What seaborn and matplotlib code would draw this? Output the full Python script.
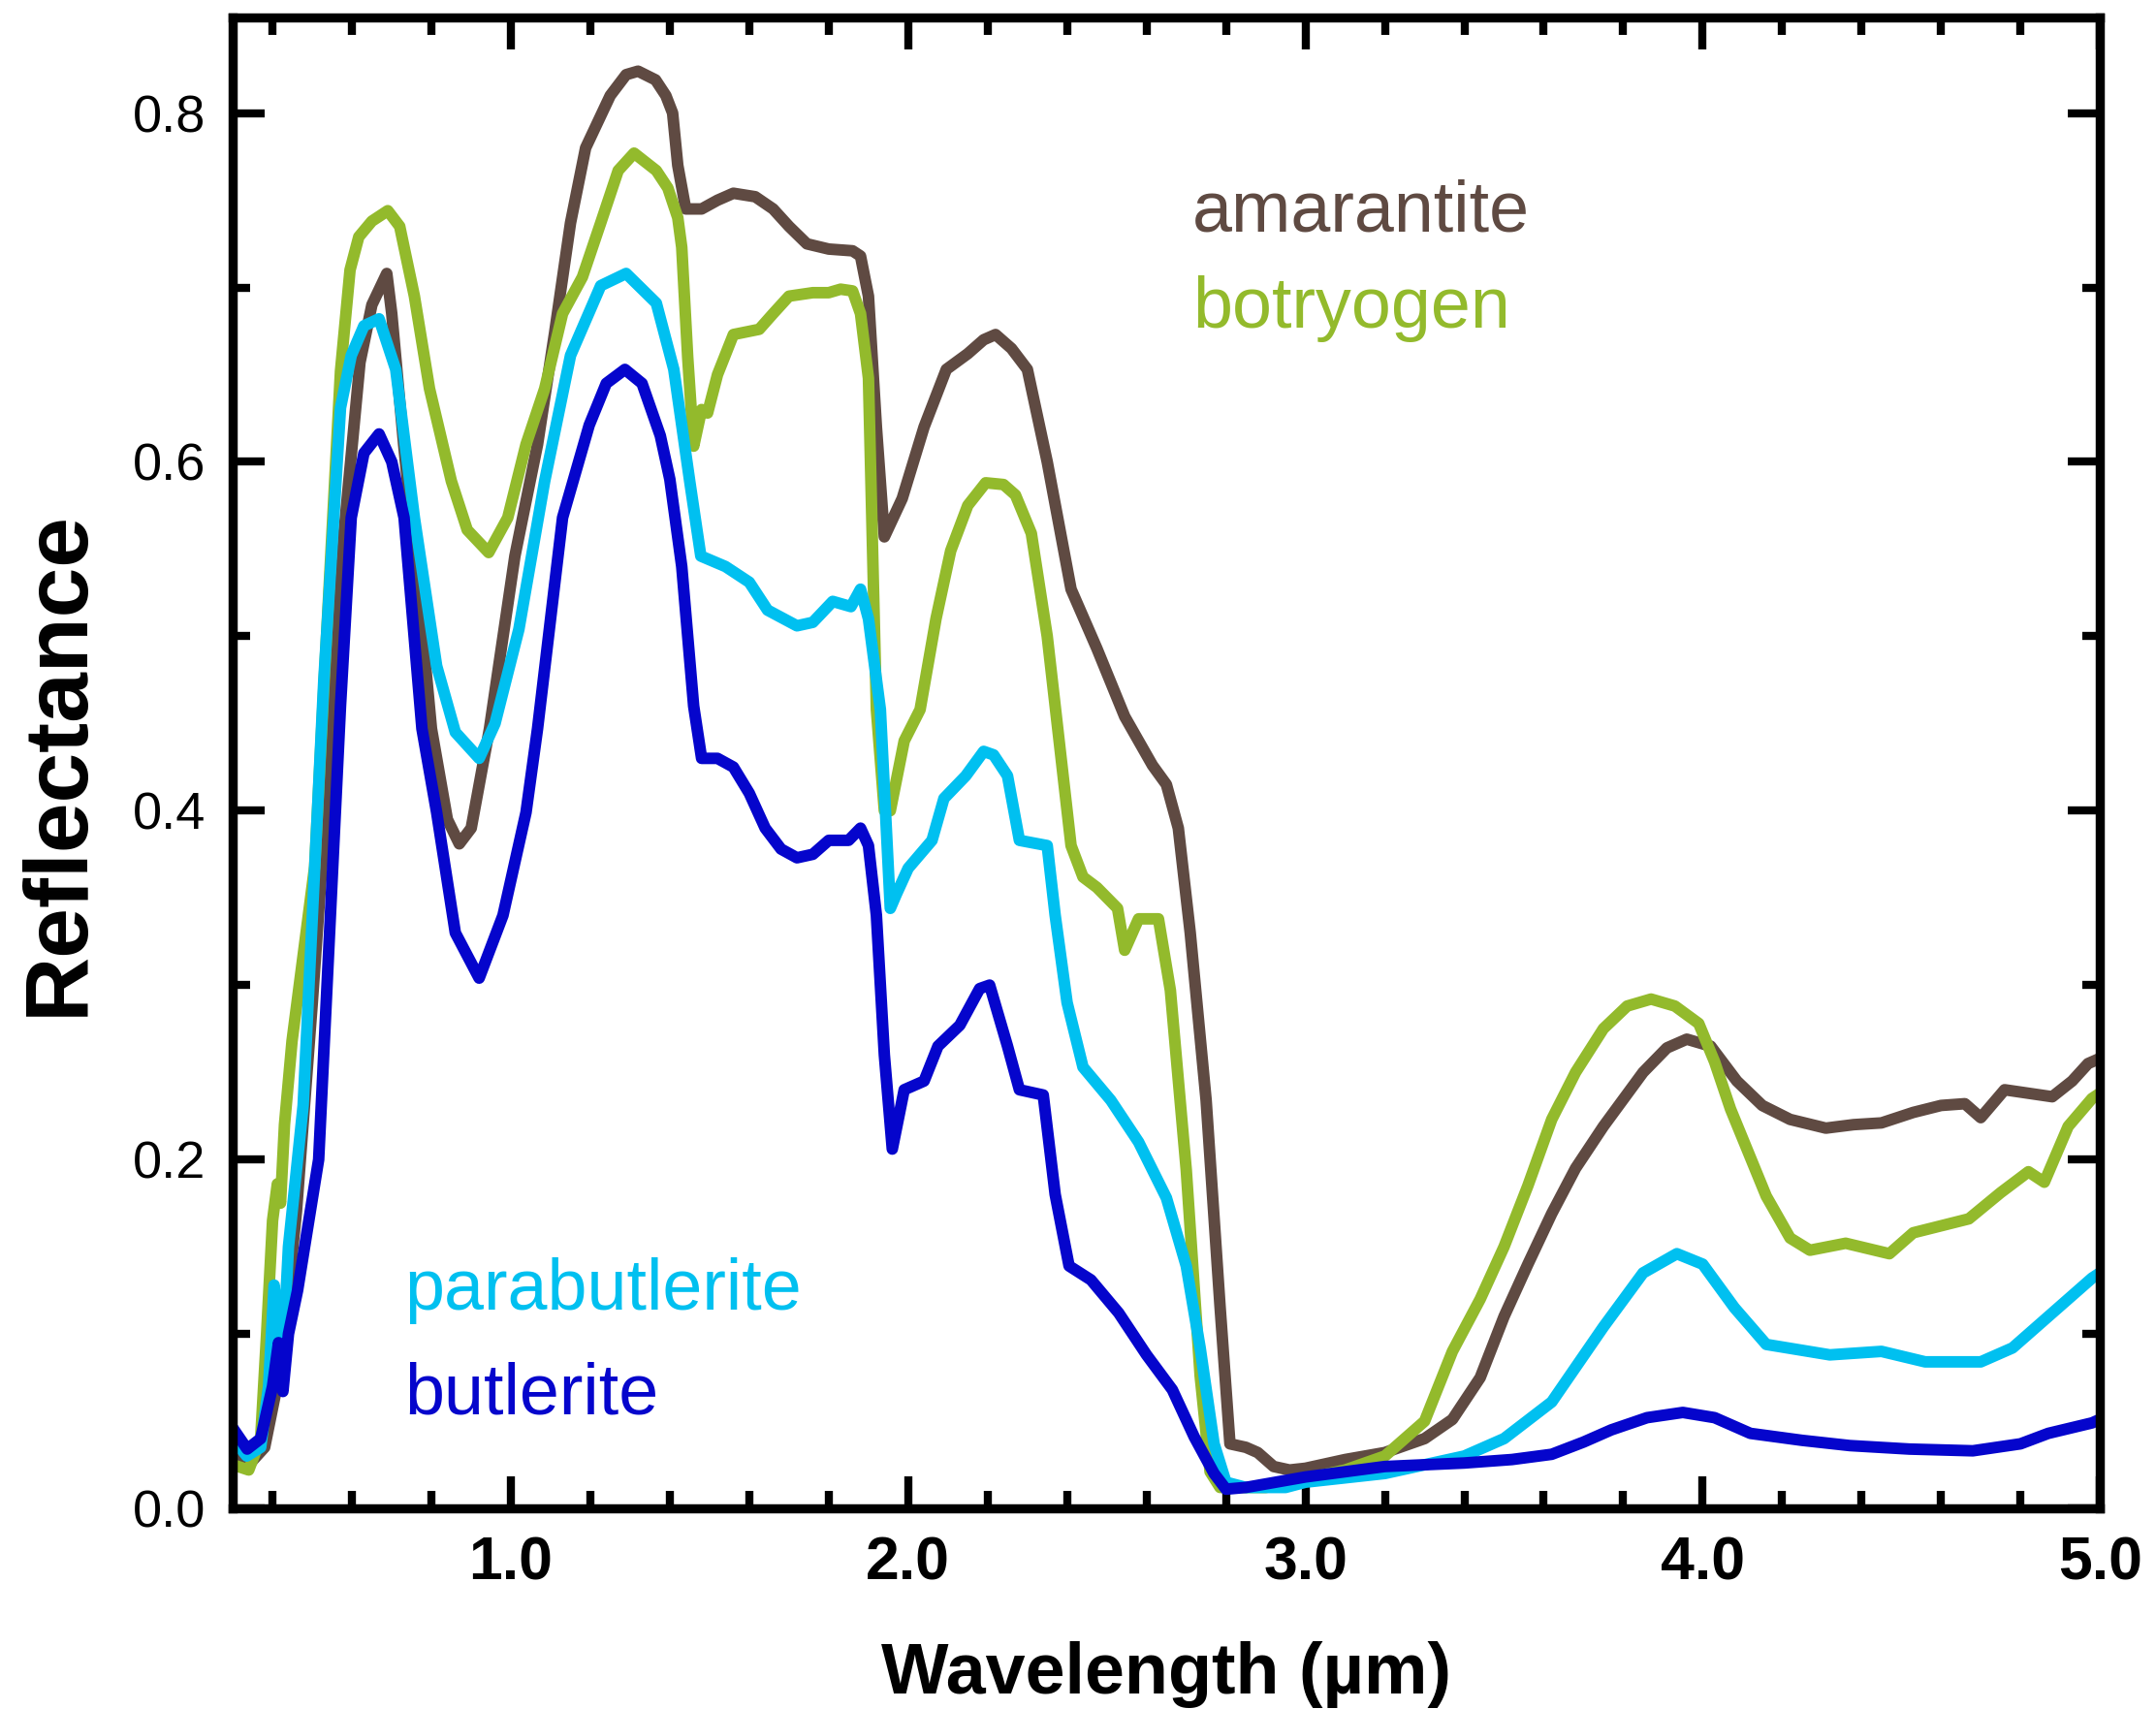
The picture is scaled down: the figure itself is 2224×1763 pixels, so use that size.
import matplotlib
matplotlib.use('Agg')
import matplotlib.pyplot as plt
from matplotlib.ticker import MultipleLocator, FormatStrFormatter
import pandas as pd
import seaborn as sns

# Spectra (wavelength in um, reflectance)
amar_wl = [0.30, 0.34, 0.38, 0.42, 0.46, 0.50, 0.54, 0.58, 0.62, 0.65, 0.6875, 0.70, 0.73, 0.768,
           0.80, 0.84, 0.87, 0.90, 0.946, 1.01, 1.067, 1.11, 1.15, 1.188, 1.25, 1.29, 1.32, 1.364,
           1.39, 1.407, 1.42, 1.44, 1.48, 1.52, 1.56, 1.615, 1.66, 1.70, 1.745, 1.80, 1.86, 1.88,
           1.90, 1.92, 1.94, 1.985, 2.04, 2.096, 2.15, 2.19, 2.22, 2.26, 2.30, 2.35, 2.41, 2.475,
           2.545, 2.615, 2.65, 2.68, 2.71, 2.75, 2.785, 2.81, 2.85, 2.88, 2.92, 2.96, 3.00, 3.10,
           3.20, 3.30, 3.37, 3.44, 3.50, 3.56, 3.62, 3.68, 3.75, 3.85, 3.91, 3.96, 4.02, 4.086,
           4.15, 4.22, 4.31, 4.38, 4.45, 4.53, 4.60, 4.66, 4.70, 4.76, 4.82, 4.88, 4.93, 4.97, 5.00]
amar_r = [0.032, 0.025, 0.035, 0.080, 0.170, 0.290, 0.420, 0.560, 0.657, 0.690, 0.708, 0.685,
          0.610, 0.525, 0.447, 0.395, 0.381, 0.390, 0.447, 0.546, 0.610, 0.674, 0.737, 0.780,
          0.810, 0.822, 0.824, 0.819, 0.810, 0.800, 0.770, 0.745, 0.745, 0.750, 0.754, 0.752,
          0.745, 0.735, 0.725, 0.722, 0.721, 0.718, 0.695, 0.620, 0.557, 0.579, 0.620, 0.653,
          0.662, 0.670, 0.673, 0.665, 0.653, 0.600, 0.527, 0.493, 0.454, 0.426, 0.415, 0.390,
          0.330, 0.234, 0.116, 0.037, 0.035, 0.032, 0.024, 0.022, 0.023, 0.028, 0.032, 0.040,
          0.051, 0.075, 0.110, 0.140, 0.169, 0.195, 0.219, 0.250, 0.264, 0.269, 0.265, 0.245,
          0.231, 0.223, 0.218, 0.220, 0.221, 0.227, 0.231, 0.232, 0.224, 0.240, 0.238, 0.236,
          0.245, 0.255, 0.258]

botr_wl = [0.30, 0.34, 0.37, 0.385, 0.40, 0.412, 0.42, 0.43, 0.449, 0.506, 0.53, 0.571, 0.595,
           0.617, 0.65, 0.69, 0.72, 0.757, 0.795, 0.85, 0.89, 0.944, 0.992, 1.038, 1.085, 1.13,
           1.18, 1.226, 1.27, 1.31, 1.366, 1.395, 1.42, 1.43, 1.445, 1.46, 1.48, 1.495, 1.52,
           1.56, 1.625, 1.66, 1.70, 1.76, 1.80, 1.83, 1.86, 1.88, 1.90, 1.92, 1.94, 1.955, 1.99,
           2.03, 2.07, 2.107, 2.15, 2.195, 2.24, 2.27, 2.31, 2.35, 2.38, 2.41, 2.44, 2.475, 2.527,
           2.545, 2.58, 2.63, 2.66, 2.70, 2.735, 2.76, 2.785, 2.90, 3.00, 3.10, 3.20, 3.30, 3.37,
           3.44, 3.50, 3.56, 3.62, 3.68, 3.75, 3.81, 3.87, 3.93, 3.99, 4.03, 4.07, 4.16, 4.22,
           4.27, 4.36, 4.47, 4.53, 4.60, 4.67, 4.75, 4.82, 4.86, 4.92, 4.98, 5.00]
botr_r = [0.025, 0.022, 0.040, 0.100, 0.165, 0.186, 0.175, 0.220, 0.268, 0.368, 0.475, 0.652,
          0.710, 0.729, 0.738, 0.744, 0.735, 0.695, 0.642, 0.589, 0.561, 0.548, 0.568, 0.610,
          0.642, 0.685, 0.706, 0.737, 0.767, 0.777, 0.767, 0.757, 0.740, 0.723, 0.660, 0.609,
          0.630, 0.628, 0.650, 0.673, 0.676, 0.685, 0.695, 0.697, 0.697, 0.699, 0.698, 0.685,
          0.648, 0.458, 0.400, 0.400, 0.440, 0.458, 0.510, 0.549, 0.575, 0.588, 0.587, 0.581,
          0.559, 0.500, 0.440, 0.380, 0.362, 0.356, 0.344, 0.320, 0.338, 0.338, 0.297, 0.194,
          0.076, 0.021, 0.012, 0.012, 0.017, 0.022, 0.030, 0.050, 0.090, 0.120, 0.150, 0.185,
          0.223, 0.250, 0.275, 0.288, 0.292, 0.288, 0.278, 0.256, 0.229, 0.179, 0.155, 0.148,
          0.152, 0.146, 0.158, 0.162, 0.166, 0.181, 0.193, 0.187, 0.219, 0.235, 0.238]

para_wl = [0.30, 0.335, 0.37, 0.39, 0.404, 0.415, 0.426, 0.44, 0.477, 0.529, 0.571, 0.598, 0.63,
           0.668, 0.71, 0.757, 0.813, 0.86, 0.92, 0.96, 1.02, 1.085, 1.15, 1.226, 1.29, 1.366,
           1.41, 1.45, 1.478, 1.54, 1.60, 1.646, 1.72, 1.76, 1.81, 1.856, 1.88, 1.90, 1.93,
           1.955, 1.97, 2.00, 2.06, 2.09, 2.145, 2.19, 2.215, 2.25, 2.28, 2.35, 2.37, 2.40, 2.44,
           2.51, 2.58, 2.65, 2.70, 2.735, 2.77, 2.80, 2.85, 2.95, 3.00, 3.20, 3.40, 3.50, 3.62,
           3.75, 3.85, 3.935, 4.00, 4.08, 4.16, 4.32, 4.45, 4.56, 4.70, 4.78, 4.87, 4.98, 5.00]
para_r = [0.040, 0.030, 0.035, 0.070, 0.128, 0.100, 0.088, 0.150, 0.231, 0.475, 0.631, 0.661,
          0.678, 0.682, 0.653, 0.568, 0.483, 0.445, 0.430, 0.450, 0.504, 0.589, 0.661, 0.701,
          0.708, 0.691, 0.653, 0.589, 0.546, 0.540, 0.531, 0.515, 0.506, 0.508, 0.520, 0.517,
          0.527, 0.510, 0.458, 0.344, 0.352, 0.367, 0.383, 0.407, 0.420, 0.434, 0.432, 0.420,
          0.383, 0.380, 0.340, 0.290, 0.253, 0.234, 0.210, 0.178, 0.139, 0.092, 0.037, 0.015,
          0.012, 0.012, 0.015, 0.020, 0.030, 0.040, 0.061, 0.104, 0.135, 0.146, 0.140, 0.115,
          0.094, 0.088, 0.090, 0.084, 0.084, 0.092, 0.110, 0.132, 0.135]

butl_wl = [0.30, 0.336, 0.37, 0.40, 0.415, 0.426, 0.44, 0.463, 0.516, 0.542, 0.571, 0.598, 0.63,
           0.668, 0.70, 0.731, 0.776, 0.813, 0.86, 0.92, 0.98, 1.038, 1.067, 1.13, 1.197, 1.24,
           1.287, 1.33, 1.376, 1.40, 1.43, 1.46, 1.48, 1.52, 1.56, 1.60, 1.64, 1.68, 1.72, 1.76,
           1.80, 1.85, 1.88, 1.90, 1.92, 1.94, 1.96, 1.99, 2.04, 2.075, 2.13, 2.18, 2.205, 2.25,
           2.28, 2.34, 2.37, 2.405, 2.46, 2.53, 2.60, 2.665, 2.72, 2.77, 2.80, 2.85, 3.00, 3.20,
           3.40, 3.52, 3.62, 3.70, 3.77, 3.86, 3.95, 4.03, 4.12, 4.25, 4.37, 4.52, 4.68, 4.80,
           4.87, 4.98, 5.00]
butl_r = [0.046, 0.034, 0.040, 0.070, 0.095, 0.067, 0.100, 0.125, 0.200, 0.323, 0.460, 0.568,
          0.605, 0.616, 0.600, 0.568, 0.447, 0.399, 0.330, 0.304, 0.340, 0.399, 0.447, 0.568,
          0.621, 0.645, 0.653, 0.645, 0.615, 0.590, 0.540, 0.460, 0.430, 0.430, 0.425, 0.410,
          0.390, 0.378, 0.373, 0.375, 0.383, 0.383, 0.390, 0.380, 0.340, 0.260, 0.206, 0.240,
          0.245, 0.265, 0.277, 0.298, 0.300, 0.265, 0.240, 0.237, 0.180, 0.139, 0.131, 0.112,
          0.088, 0.068, 0.041, 0.020, 0.011, 0.012, 0.018, 0.024, 0.026, 0.028, 0.031, 0.038,
          0.045, 0.052, 0.055, 0.052, 0.043, 0.039, 0.036, 0.034, 0.033, 0.037, 0.043, 0.049,
          0.051]

names = ['amarantite', 'botryogen', 'parabutlerite', 'butlerite']
colors = ['#5f4a42', '#93ba2c', '#00c0f0', '#0505cc']

sns.set_theme(style='ticks')
plt.rcParams['font.family'] = ['Liberation Sans', 'DejaVu Sans']
plt.rcParams['text.color'] = 'black'
plt.rcParams['axes.labelcolor'] = 'black'
plt.rcParams['xtick.color'] = 'black'
plt.rcParams['ytick.color'] = 'black'

fig = plt.figure(figsize=(11.12, 8.815), dpi=200)
ax = fig.add_axes([0.108, 0.1174, 0.866, 0.8726])

series = [(amar_wl, amar_r), (botr_wl, botr_r), (para_wl, para_r), (butl_wl, butl_r)]
for (wl, r), name, c in zip(series, names, colors):
    df = pd.DataFrame({'wl': wl, 'r': r})
    sns.lineplot(data=df, x='wl', y='r', ax=ax, color=c, linewidth=4.3,
                 sort=False, estimator=None, solid_joinstyle='round',
                 solid_capstyle='round')

ax.set_xlim(0.3, 5.0)
ax.set_ylim(0.0, 0.855)

ax.xaxis.set_major_locator(MultipleLocator(1.0))
ax.xaxis.set_minor_locator(MultipleLocator(0.2))
ax.yaxis.set_major_locator(MultipleLocator(0.2))
ax.yaxis.set_minor_locator(MultipleLocator(0.1))
ax.xaxis.set_major_formatter(FormatStrFormatter('%.1f'))
ax.yaxis.set_major_formatter(FormatStrFormatter('%.1f'))

ax.tick_params(which='both', direction='in', top=True, right=True, width=3.0, color='black')
ax.tick_params(which='major', length=12)
ax.tick_params(which='minor', length=6.5)
ax.tick_params(axis='x', which='major', pad=10, labelsize=22.5)
ax.tick_params(axis='y', which='major', pad=10, labelsize=19.5)
for lab in ax.get_xticklabels():
    lab.set_fontweight('bold')

for s in ax.spines.values():
    s.set_linewidth(3.4)
    s.set_color('black')

ax.set_xlabel('Wavelength (µm)', fontsize=26.5, fontweight='bold', labelpad=18)
ax.set_ylabel('Reflectance', fontsize=33.5, fontweight='bold', labelpad=12)

# labels for the spectra
ax.text(2.715, 0.732, 'amarantite', color=colors[0], fontsize=26.5, va='baseline')
ax.text(2.715, 0.677, 'botryogen', color=colors[1], fontsize=26.5, va='baseline')
ax.text(0.733, 0.114, 'parabutlerite', color=colors[2], fontsize=26.5, va='baseline')
ax.text(0.733, 0.054, 'butlerite', color=colors[3], fontsize=26.5, va='baseline')

plt.savefig('out.png', dpi=200)
